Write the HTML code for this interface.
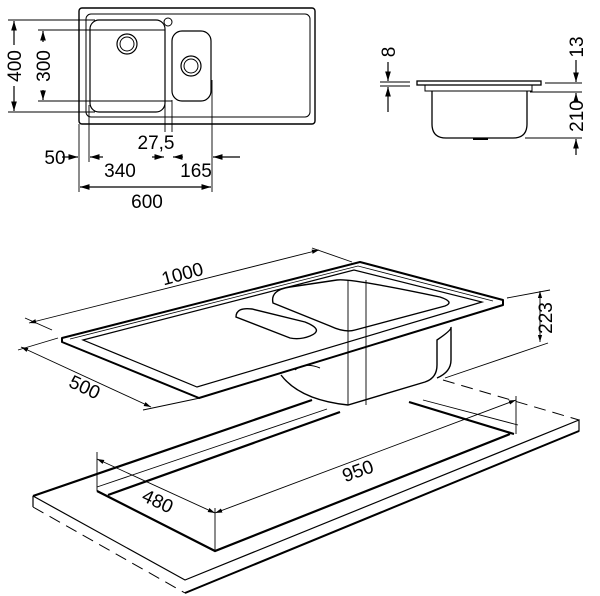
<!DOCTYPE html>
<html><head><meta charset="utf-8"><style>
html,body{margin:0;padding:0;background:#fff}
svg{display:block}
text{font-family:"Liberation Sans",Arial,sans-serif;fill:#000}
</style></head><body>
<svg width="600" height="596" viewBox="0 0 600 596" xmlns="http://www.w3.org/2000/svg">
<defs>
<marker id="a" viewBox="0 0 10 10" refX="10" refY="5" markerWidth="8" markerHeight="8" orient="auto-start-reverse"><path d="M0,2 L10,5 L0,8z" fill="#000"/></marker>
</defs>
<g fill="none" stroke="#000">
<rect x="79" y="8" width="236" height="116" rx="3" stroke-width="1.4"/>
<rect x="86" y="14" width="224" height="103" rx="5" stroke-width="1"/>
<rect x="90" y="20" width="75" height="92" rx="9" stroke-width="1.2"/>
<circle cx="127" cy="44" r="10" stroke-width="1.2"/><circle cx="127" cy="44" r="7" stroke-width="1"/>
<circle cx="168" cy="22" r="4" stroke-width="1"/>
<rect x="172" y="31" width="39" height="70" rx="10" stroke-width="1.2"/>
<circle cx="191" cy="66" r="10" stroke-width="1.2"/><circle cx="191" cy="66" r="7" stroke-width="1"/>
<g stroke-width="0.9">
<line x1="8" y1="20" x2="95" y2="20"/><line x1="8" y1="112" x2="95" y2="112"/>
<line x1="38" y1="30" x2="165" y2="30"/><line x1="38" y1="101" x2="172" y2="101"/>
<line x1="79" y1="124" x2="79" y2="192"/><line x1="89" y1="105" x2="89" y2="162"/>
<line x1="165" y1="100" x2="165" y2="132"/><line x1="172" y1="100" x2="172" y2="132"/>
<line x1="212" y1="80" x2="212" y2="192"/>
</g>
<g stroke-width="1.2">
<line x1="14" y1="21" x2="14" y2="45" marker-start="url(#a)"/><line x1="14" y1="86" x2="14" y2="111" marker-end="url(#a)"/>
<line x1="43" y1="31" x2="43" y2="42" marker-start="url(#a)"/><line x1="43" y1="90" x2="43" y2="100" marker-end="url(#a)"/>
<line x1="62" y1="157" x2="78" y2="157" marker-end="url(#a)"/>
<line x1="103" y1="157" x2="90" y2="157" marker-end="url(#a)"/>
<line x1="152" y1="157" x2="164" y2="157" marker-end="url(#a)"/>
<line x1="183" y1="157" x2="173" y2="157" marker-end="url(#a)"/>
<line x1="240" y1="157" x2="213" y2="157" marker-end="url(#a)"/>
<line x1="80" y1="187" x2="211" y2="187" marker-start="url(#a)" marker-end="url(#a)"/>
</g>
<rect x="417" y="81" width="124" height="4" stroke-width="1.3"/>
<path d="M425,85 L425,91 L532,91 L532,85" stroke-width="1"/>
<path d="M432,91 L432,124 Q432,138 446,138 L513,138 Q527,138 527,124 L527,91" stroke-width="1.3"/>
<line x1="473" y1="139" x2="488" y2="139" stroke-width="2"/>
<g stroke-width="0.9">
<line x1="380" y1="82" x2="410" y2="82"/><line x1="380" y1="86" x2="410" y2="86"/>
<line x1="545" y1="83" x2="582" y2="83"/><line x1="530" y1="92" x2="582" y2="92"/>
<line x1="525" y1="138" x2="582" y2="138"/>
</g>
<g stroke-width="1.2">
<line x1="388" y1="62" x2="388" y2="81" marker-end="url(#a)"/>
<line x1="388" y1="112" x2="388" y2="87" marker-end="url(#a)"/>
<line x1="576" y1="60" x2="576" y2="82" marker-end="url(#a)"/>
<line x1="576" y1="96" x2="576" y2="93" marker-end="url(#a)"/>
<line x1="576" y1="155" x2="576" y2="139" marker-end="url(#a)"/>
</g>
<path d="M62,338 L360,262 L503,300 L503,305 L199,398 L62,342 Z" stroke-width="2" stroke-linejoin="round"/>
<path d="M83,340 L354,270 L482,302 L197,387 Z" stroke-width="1.2"/>
<path d="M70,339 L358,266 L493,301" stroke-width="0.8"/>
<path d="M273,303 Q270,290 290,287 L337,280 Q350,278 440,297 Q455,302 445,306 L355,330 Q345,333 330,326 Z" stroke-width="1.4"/>
<path d="M236,317 Q236,307 252,309 L305,322 Q325,330 310,336 Q300,340 290,338 Z" stroke-width="1.4"/>
<path d="M281,375 Q300,400 348,405 L425,382 Q437,378 437,365 L437,340 Q452,330 451,327 M451,327 L451,360 Q451,372 437,378" stroke-width="1.4"/>
<line x1="348" y1="280" x2="348" y2="405" stroke-width="0.9"/><line x1="366" y1="280" x2="366" y2="405" stroke-width="0.9"/>
<path d="M295,370 Q305,362 320,368" stroke-width="1"/>
<g stroke-width="0.9">
<line x1="29" y1="323" x2="319" y2="250" marker-start="url(#a)" marker-end="url(#a)"/>
<line x1="312" y1="248" x2="352" y2="262"/><line x1="25" y1="318" x2="52" y2="330"/>
<line x1="21" y1="347" x2="151" y2="407" marker-start="url(#a)" marker-end="url(#a)"/>
<line x1="143" y1="410" x2="200" y2="398"/><line x1="18" y1="350" x2="58" y2="338"/>
<line x1="507" y1="298" x2="550" y2="290"/><line x1="445" y1="378" x2="548" y2="343"/>
<line x1="540" y1="291" x2="540" y2="342" marker-start="url(#a)" marker-end="url(#a)"/>
</g>
<path d="M33,496 L312,400" stroke-width="2.2"/>
<path d="M33,496 L33,507 M33,496 L185,580 L579,420 L579,431 L185,593" stroke-width="1.2"/>
<path d="M185,593 L579,431" stroke-width="2"/>
<path d="M33,507 L185,593 M443,380 L579,420" stroke-width="1" stroke-dasharray="12,7"/>
<path d="M97,491 L215,551 L510,434" stroke-width="2.2"/>
<path d="M108,495 L340,412" stroke-width="2.2"/>
<path d="M97,487 L327,409" stroke-width="0.9"/>
<path d="M409,402 L514,434" stroke-width="2.2"/>
<path d="M423,400 L518,425" stroke-width="0.9"/>
<g stroke-width="0.9">
<line x1="215" y1="513" x2="516" y2="400" marker-start="url(#a)" marker-end="url(#a)"/>
<line x1="97" y1="459" x2="215" y2="513" marker-start="url(#a)" marker-end="url(#a)"/>
<line x1="215" y1="508" x2="215" y2="551"/><line x1="516" y1="396" x2="516" y2="434"/>
<line x1="97" y1="452" x2="97" y2="491"/>
</g>
</g>
<g font-size="19">
<text x="55" y="164" text-anchor="middle">50</text>
<text x="120" y="177" text-anchor="middle">340</text>
<text x="156" y="149" text-anchor="middle">27,5</text>
<text x="196" y="177" text-anchor="middle">165</text>
<text x="147" y="208" text-anchor="middle">600</text>
<text transform="translate(21,66) rotate(-90)" text-anchor="middle">400</text>
<text transform="translate(50,66) rotate(-90)" text-anchor="middle">300</text>
<text transform="translate(395,52) rotate(-90)" text-anchor="middle">8</text>
<text transform="translate(583,47) rotate(-90)" text-anchor="middle">13</text>
<text transform="translate(583,116) rotate(-90)" text-anchor="middle">210</text>
<text transform="translate(184,280) rotate(-15)" text-anchor="middle">1000</text>
<text transform="translate(82,393) rotate(25)" text-anchor="middle">500</text>
<text transform="translate(552,318) rotate(-90)" text-anchor="middle">223</text>
<text transform="translate(360,477) rotate(-20)" text-anchor="middle">950</text>
<text transform="translate(155,507) rotate(25)" text-anchor="middle">480</text>
</g>
</svg>
</body></html>
